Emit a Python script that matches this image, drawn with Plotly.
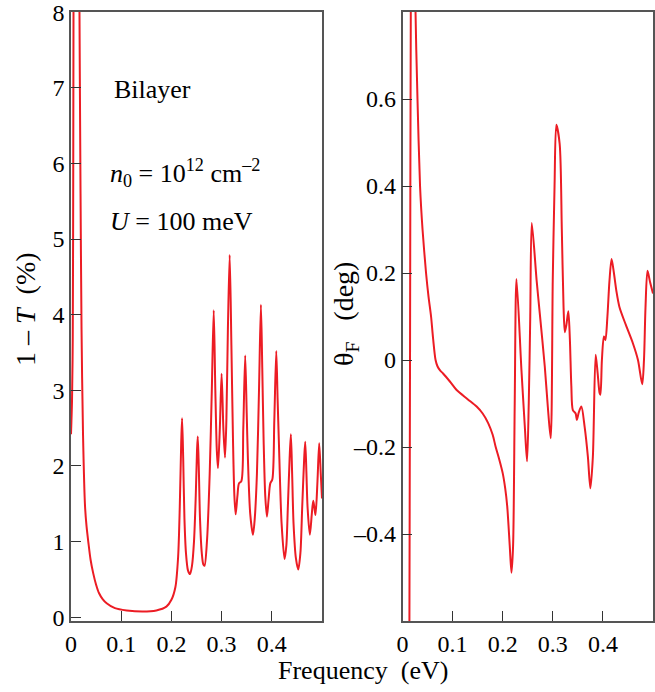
import plotly.graph_objects as go

# ---- data: left panel, 1 - T (%) vs frequency (eV)
left_f = [0.000, 0.002, 0.0035, 0.0045, 0.0055, 0.008, 0.011, 0.014, 0.0165, 0.019,
          0.021, 0.024, 0.028, 0.031, 0.0344, 0.039, 0.0443, 0.050, 0.0557, 0.063,
          0.071, 0.0875, 0.111, 0.143, 0.170, 0.190, 0.200, 0.208, 0.2134, 0.2167,
          0.2195, 0.2213, 0.2235, 0.226, 0.229, 0.233, 0.237, 0.241, 0.245, 0.2485,
          0.2510, 0.2525, 0.2545, 0.257, 0.2605, 0.2635, 0.266, 0.271, 0.2763, 0.2805,
          0.2843, 0.2875, 0.2905, 0.2928, 0.2965, 0.300, 0.3035, 0.3068, 0.3095, 0.3125,
          0.3161, 0.3195, 0.3227, 0.3255, 0.328, 0.3315, 0.3346, 0.3394, 0.3432, 0.347,
          0.3500, 0.3523, 0.357, 0.3625, 0.366, 0.3704, 0.3745, 0.3783, 0.381, 0.3837,
          0.387, 0.3903, 0.3935, 0.397, 0.401, 0.405, 0.4089, 0.4115, 0.414, 0.4195,
          0.4254, 0.4290, 0.432, 0.4355, 0.438, 0.4405, 0.4433, 0.448, 0.4527, 0.457,
          0.4606, 0.4645, 0.4666, 0.469, 0.4712, 0.4758, 0.4795, 0.4825, 0.4848, 0.4871,
          0.491, 0.4944, 0.4975, 0.500]
left_v = [2.42, 2.85, 3.7, 6.0, 10.0, 16.0, 17.0, 13.0, 8.5, 5.6,
          3.8, 2.4, 1.46, 1.2, 1.0, 0.76, 0.58, 0.43, 0.32, 0.24,
          0.185, 0.12, 0.09, 0.075, 0.09, 0.14, 0.23, 0.40, 0.8, 1.46,
          2.3, 2.63, 2.1, 1.3, 0.85, 0.62, 0.57, 0.68, 1.0, 1.6,
          2.2, 2.39, 2.0, 1.3, 0.85, 0.70, 0.68, 1.02, 1.9, 3.0,
          4.06, 3.0, 2.2, 1.97, 2.5, 3.22, 2.5, 2.11, 2.6, 3.8,
          4.79, 3.6, 2.34, 1.6, 1.36, 1.6, 1.77, 1.8, 2.5, 3.46,
          2.7, 2.12, 1.37, 1.09, 1.3, 1.90, 3.0, 4.13, 3.3, 2.34,
          1.6, 1.33, 1.55, 1.77, 1.82, 2.6, 3.52, 2.9, 2.34, 1.24,
          0.77, 0.95, 1.46, 2.1, 2.42, 1.9, 1.24, 0.78, 0.63, 0.85,
          1.46, 2.1, 2.32, 1.9, 1.46, 1.09, 1.35, 1.54, 1.45, 1.35,
          1.8, 2.30, 1.9, 1.57]

# ---- data: right panel, Faraday rotation theta_F (deg) vs frequency (eV)
right_f = [0.000, 0.010, 0.013, 0.015, 0.017, 0.020, 0.023, 0.026, 0.030, 0.035,
           0.040, 0.047, 0.052, 0.057, 0.061, 0.066, 0.070, 0.075, 0.081, 0.095,
           0.108, 0.130, 0.148, 0.160, 0.171, 0.180, 0.186, 0.193, 0.200, 0.205,
           0.209, 0.2141, 0.2175, 0.2207, 0.224, 0.2275, 0.2374, 0.2440, 0.2486, 0.2520,
           0.2550, 0.258, 0.2677, 0.274, 0.284, 0.290, 0.2958, 0.2999, 0.3035, 0.307,
           0.3137, 0.318, 0.3215, 0.324, 0.327, 0.331, 0.334, 0.337, 0.340, 0.3456,
           0.348, 0.352, 0.357, 0.3635, 0.370, 0.375, 0.380, 0.3855, 0.3895, 0.3934,
           0.395, 0.398, 0.402, 0.405, 0.409, 0.413, 0.4173, 0.422, 0.427, 0.433,
           0.446, 0.460, 0.470, 0.4785, 0.482, 0.485, 0.489, 0.494, 0.500]
right_v = [-3.0, -2.5, -1.0, 0.0, 1.0, 1.5, 1.2, 0.8, 0.596, 0.40,
           0.30, 0.20, 0.145, 0.10, 0.05, 0.0, -0.015, -0.024, -0.031, -0.05,
           -0.069, -0.09, -0.107, -0.123, -0.145, -0.172, -0.20, -0.228, -0.26, -0.295,
           -0.336, -0.428, -0.489, -0.428, -0.10, 0.186, -0.023, -0.15, -0.233, -0.10,
           0.10, 0.315, 0.183, 0.107, -0.015, -0.107, -0.180, 0.183, 0.40, 0.541,
           0.497, 0.30, 0.12, 0.064, 0.08, 0.112, 0.05, -0.06, -0.115, -0.123,
           -0.138, -0.12, -0.107, -0.153, -0.222, -0.295, -0.222, 0.012, -0.03, -0.076,
           -0.08, 0.0, 0.054, 0.046, 0.10, 0.18, 0.232, 0.20, 0.158, 0.122,
           0.08, 0.038, 0.0, -0.056, 0.0, 0.12, 0.205, 0.18, 0.153]

x_tickvals = [0, 0.1, 0.2, 0.3, 0.4]
x_ticktext = ["0", "0.1", "0.2", "0.3", "0.4"]
left_tickvals = [0, 1, 2, 3, 4, 5, 6, 7, 8]
left_ticktext = ["0", "1", "2", "3", "4", "5", "6", "7", "8"]
right_tickvals = [-0.4, -0.2, 0, 0.2, 0.4, 0.6]
right_ticktext = ["\u20130.4", "\u20130.2", "0", "0.2", "0.4", "0.6"]

RED = "#ec1c24"
AX = "#555555"
SERIF = "Liberation Serif"

fig = go.Figure()
fig.add_trace(go.Scatter(x=left_f, y=left_v, mode="lines", xaxis="x", yaxis="y",
                         line=dict(color=RED, width=2, shape="spline", smoothing=0.8),
                         showlegend=False, hoverinfo="skip"))
fig.add_trace(go.Scatter(x=right_f, y=right_v, mode="lines", xaxis="x2", yaxis="y2",
                         line=dict(color=RED, width=2, shape="spline", smoothing=0.8),
                         showlegend=False, hoverinfo="skip"))

W, H = 655, 692
ydom = [(H - 621) / H, (H - 12) / H]

axis_common = dict(showline=True, mirror=True, linecolor=AX, linewidth=1.5,
                   ticks="inside", ticklen=10, tickwidth=1.3, tickcolor="#333333",
                   showgrid=False, zeroline=False, ticklabeloverflow="allow",
                   automargin=False,
                   tickfont=dict(family=SERIF, size=24, color="black"))

fig.update_layout(
    width=W, height=H,
    margin=dict(l=0, r=0, t=0, b=0),
    paper_bgcolor="white", plot_bgcolor="white",
    font=dict(family=SERIF, size=24, color="black"),
    xaxis=dict(domain=[71 / W, 322 / W], range=[0, 0.5], anchor="y",
               tickvals=x_tickvals, ticktext=x_ticktext, **axis_common),
    yaxis=dict(domain=ydom, range=[-0.05, 8.002], anchor="x",
               tickvals=left_tickvals, ticktext=left_ticktext, **axis_common),
    xaxis2=dict(domain=[402.5 / W, 653 / W], range=[0, 0.5], anchor="y2",
                tickvals=x_tickvals, ticktext=x_ticktext, **axis_common),
    yaxis2=dict(domain=ydom, range=[-0.6, 0.8], anchor="x2",
                tickvals=right_tickvals, ticktext=right_ticktext, **axis_common),
)

ann_font = dict(family=SERIF, size=26, color="black")
title_font = dict(family=SERIF, size=28, color="black")
fig.add_annotation(xref="paper", yref="paper", x=25 / W, y=1 - 309 / H,
                   text="1 \u2013 <i>T</i>  (%)", textangle=-90, showarrow=False,
                   font=title_font, xanchor="center", yanchor="middle")
fig.add_annotation(xref="paper", yref="paper", x=345 / W, y=1 - 314 / H,
                   text="\u03b8<sub>F</sub>   (deg)", textangle=-90, showarrow=False,
                   font=title_font, xanchor="center", yanchor="middle")
fig.add_annotation(xref="paper", yref="paper", x=363 / W, y=1 - 670 / H,
                   text="Frequency  (eV)", showarrow=False,
                   font=ann_font, xanchor="center", yanchor="middle")
fig.add_annotation(xref="paper", yref="paper", x=112 / W, y=1 - 90 / H,
                   text="Bilayer", showarrow=False,
                   font=ann_font, xanchor="left", yanchor="middle")
fig.add_annotation(xref="paper", yref="paper", x=108 / W, y=1 - 173 / H,
                   text="<i>n</i><sub>0</sub> = 10<sup>12</sup> cm<sup>\u20132</sup>",
                   showarrow=False, font=ann_font, xanchor="left", yanchor="middle")
fig.add_annotation(xref="paper", yref="paper", x=108 / W, y=1 - 222 / H,
                   text="<i>U</i> = 100 meV", showarrow=False,
                   font=ann_font, xanchor="left", yanchor="middle")

fig.write_html("out.html")
